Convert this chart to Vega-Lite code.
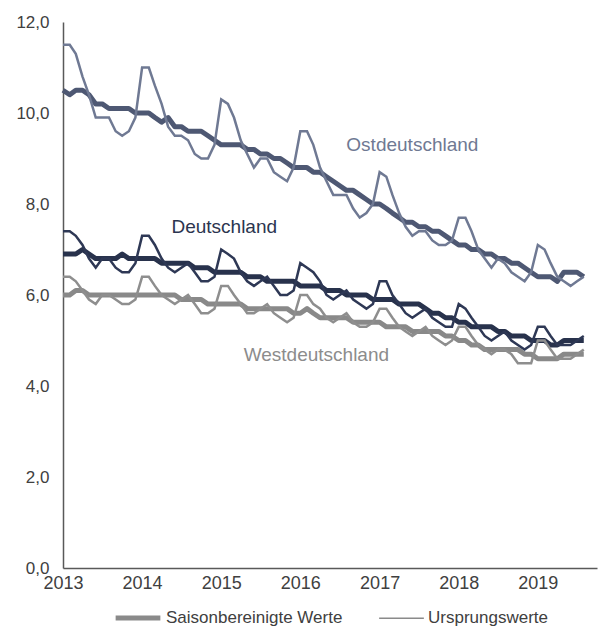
{
  "$schema": "https://vega.github.io/schema/vega-lite/v6.json",
  "autosize": {"type": "none"},
  "width": 534,
  "height": 546,
  "padding": {"left": 63, "top": 22, "right": 1, "bottom": 62},
  "config": {
    "font": "Liberation Sans",
    "view": {"stroke": null},
    "axis": {"labelFont": "Liberation Sans"},
    "legend": {"labelFont": "Liberation Sans"}
  },
  "datasets": {
    "werte": [
      {"d":"2013-01-01","r":"Ostdeutschland","sa":10.5,"o":11.5},{"d":"2013-02-01","r":"Ostdeutschland","sa":10.4,"o":11.5},{"d":"2013-03-01","r":"Ostdeutschland","sa":10.5,"o":11.3},{"d":"2013-04-01","r":"Ostdeutschland","sa":10.5,"o":10.8},{"d":"2013-05-01","r":"Ostdeutschland","sa":10.4,"o":10.4},{"d":"2013-06-01","r":"Ostdeutschland","sa":10.2,"o":9.9},{"d":"2013-07-01","r":"Ostdeutschland","sa":10.2,"o":9.9},{"d":"2013-08-01","r":"Ostdeutschland","sa":10.1,"o":9.9},{"d":"2013-09-01","r":"Ostdeutschland","sa":10.1,"o":9.6},{"d":"2013-10-01","r":"Ostdeutschland","sa":10.1,"o":9.5},{"d":"2013-11-01","r":"Ostdeutschland","sa":10.1,"o":9.6},{"d":"2013-12-01","r":"Ostdeutschland","sa":10.0,"o":9.9},
      {"d":"2014-01-01","r":"Ostdeutschland","sa":10.0,"o":11.0},{"d":"2014-02-01","r":"Ostdeutschland","sa":10.0,"o":11.0},{"d":"2014-03-01","r":"Ostdeutschland","sa":9.9,"o":10.6},{"d":"2014-04-01","r":"Ostdeutschland","sa":9.8,"o":10.2},{"d":"2014-05-01","r":"Ostdeutschland","sa":9.9,"o":9.7},{"d":"2014-06-01","r":"Ostdeutschland","sa":9.7,"o":9.5},{"d":"2014-07-01","r":"Ostdeutschland","sa":9.7,"o":9.5},{"d":"2014-08-01","r":"Ostdeutschland","sa":9.6,"o":9.4},{"d":"2014-09-01","r":"Ostdeutschland","sa":9.6,"o":9.1},{"d":"2014-10-01","r":"Ostdeutschland","sa":9.6,"o":9.0},{"d":"2014-11-01","r":"Ostdeutschland","sa":9.5,"o":9.0},{"d":"2014-12-01","r":"Ostdeutschland","sa":9.4,"o":9.3},
      {"d":"2015-01-01","r":"Ostdeutschland","sa":9.3,"o":10.3},{"d":"2015-02-01","r":"Ostdeutschland","sa":9.3,"o":10.2},{"d":"2015-03-01","r":"Ostdeutschland","sa":9.3,"o":9.9},{"d":"2015-04-01","r":"Ostdeutschland","sa":9.3,"o":9.4},{"d":"2015-05-01","r":"Ostdeutschland","sa":9.2,"o":9.1},{"d":"2015-06-01","r":"Ostdeutschland","sa":9.2,"o":8.8},{"d":"2015-07-01","r":"Ostdeutschland","sa":9.1,"o":9.0},{"d":"2015-08-01","r":"Ostdeutschland","sa":9.1,"o":9.0},{"d":"2015-09-01","r":"Ostdeutschland","sa":9.0,"o":8.7},{"d":"2015-10-01","r":"Ostdeutschland","sa":9.0,"o":8.6},{"d":"2015-11-01","r":"Ostdeutschland","sa":8.9,"o":8.5},{"d":"2015-12-01","r":"Ostdeutschland","sa":8.8,"o":8.8},
      {"d":"2016-01-01","r":"Ostdeutschland","sa":8.8,"o":9.6},{"d":"2016-02-01","r":"Ostdeutschland","sa":8.8,"o":9.6},{"d":"2016-03-01","r":"Ostdeutschland","sa":8.7,"o":9.3},{"d":"2016-04-01","r":"Ostdeutschland","sa":8.7,"o":8.8},{"d":"2016-05-01","r":"Ostdeutschland","sa":8.6,"o":8.5},{"d":"2016-06-01","r":"Ostdeutschland","sa":8.5,"o":8.2},{"d":"2016-07-01","r":"Ostdeutschland","sa":8.4,"o":8.2},{"d":"2016-08-01","r":"Ostdeutschland","sa":8.3,"o":8.2},{"d":"2016-09-01","r":"Ostdeutschland","sa":8.3,"o":7.9},{"d":"2016-10-01","r":"Ostdeutschland","sa":8.2,"o":7.7},{"d":"2016-11-01","r":"Ostdeutschland","sa":8.1,"o":7.8},{"d":"2016-12-01","r":"Ostdeutschland","sa":8.0,"o":8.0},
      {"d":"2017-01-01","r":"Ostdeutschland","sa":8.0,"o":8.7},{"d":"2017-02-01","r":"Ostdeutschland","sa":7.9,"o":8.6},{"d":"2017-03-01","r":"Ostdeutschland","sa":7.8,"o":8.2},{"d":"2017-04-01","r":"Ostdeutschland","sa":7.7,"o":7.8},{"d":"2017-05-01","r":"Ostdeutschland","sa":7.6,"o":7.5},{"d":"2017-06-01","r":"Ostdeutschland","sa":7.6,"o":7.3},{"d":"2017-07-01","r":"Ostdeutschland","sa":7.5,"o":7.4},{"d":"2017-08-01","r":"Ostdeutschland","sa":7.5,"o":7.4},{"d":"2017-09-01","r":"Ostdeutschland","sa":7.4,"o":7.2},{"d":"2017-10-01","r":"Ostdeutschland","sa":7.4,"o":7.1},{"d":"2017-11-01","r":"Ostdeutschland","sa":7.3,"o":7.1},{"d":"2017-12-01","r":"Ostdeutschland","sa":7.2,"o":7.2},
      {"d":"2018-01-01","r":"Ostdeutschland","sa":7.1,"o":7.7},{"d":"2018-02-01","r":"Ostdeutschland","sa":7.1,"o":7.7},{"d":"2018-03-01","r":"Ostdeutschland","sa":7.0,"o":7.4},{"d":"2018-04-01","r":"Ostdeutschland","sa":7.0,"o":7.0},{"d":"2018-05-01","r":"Ostdeutschland","sa":6.9,"o":6.8},{"d":"2018-06-01","r":"Ostdeutschland","sa":6.9,"o":6.6},{"d":"2018-07-01","r":"Ostdeutschland","sa":6.8,"o":6.8},{"d":"2018-08-01","r":"Ostdeutschland","sa":6.8,"o":6.7},{"d":"2018-09-01","r":"Ostdeutschland","sa":6.7,"o":6.5},{"d":"2018-10-01","r":"Ostdeutschland","sa":6.7,"o":6.4},{"d":"2018-11-01","r":"Ostdeutschland","sa":6.6,"o":6.3},{"d":"2018-12-01","r":"Ostdeutschland","sa":6.5,"o":6.5},
      {"d":"2019-01-01","r":"Ostdeutschland","sa":6.4,"o":7.1},{"d":"2019-02-01","r":"Ostdeutschland","sa":6.4,"o":7.0},{"d":"2019-03-01","r":"Ostdeutschland","sa":6.4,"o":6.7},{"d":"2019-04-01","r":"Ostdeutschland","sa":6.3,"o":6.4},{"d":"2019-05-01","r":"Ostdeutschland","sa":6.5,"o":6.3},{"d":"2019-06-01","r":"Ostdeutschland","sa":6.5,"o":6.2},{"d":"2019-07-01","r":"Ostdeutschland","sa":6.5,"o":6.3},{"d":"2019-08-01","r":"Ostdeutschland","sa":6.4,"o":6.4},

      {"d":"2013-01-01","r":"Deutschland","sa":6.9,"o":7.4},{"d":"2013-02-01","r":"Deutschland","sa":6.9,"o":7.4},{"d":"2013-03-01","r":"Deutschland","sa":6.9,"o":7.3},{"d":"2013-04-01","r":"Deutschland","sa":7.0,"o":7.1},{"d":"2013-05-01","r":"Deutschland","sa":6.9,"o":6.8},{"d":"2013-06-01","r":"Deutschland","sa":6.8,"o":6.6},{"d":"2013-07-01","r":"Deutschland","sa":6.8,"o":6.8},{"d":"2013-08-01","r":"Deutschland","sa":6.8,"o":6.8},{"d":"2013-09-01","r":"Deutschland","sa":6.8,"o":6.6},{"d":"2013-10-01","r":"Deutschland","sa":6.9,"o":6.5},{"d":"2013-11-01","r":"Deutschland","sa":6.8,"o":6.5},{"d":"2013-12-01","r":"Deutschland","sa":6.8,"o":6.7},
      {"d":"2014-01-01","r":"Deutschland","sa":6.8,"o":7.3},{"d":"2014-02-01","r":"Deutschland","sa":6.8,"o":7.3},{"d":"2014-03-01","r":"Deutschland","sa":6.8,"o":7.1},{"d":"2014-04-01","r":"Deutschland","sa":6.7,"o":6.8},{"d":"2014-05-01","r":"Deutschland","sa":6.7,"o":6.6},{"d":"2014-06-01","r":"Deutschland","sa":6.7,"o":6.5},{"d":"2014-07-01","r":"Deutschland","sa":6.7,"o":6.6},{"d":"2014-08-01","r":"Deutschland","sa":6.7,"o":6.7},{"d":"2014-09-01","r":"Deutschland","sa":6.6,"o":6.5},{"d":"2014-10-01","r":"Deutschland","sa":6.6,"o":6.3},{"d":"2014-11-01","r":"Deutschland","sa":6.6,"o":6.3},{"d":"2014-12-01","r":"Deutschland","sa":6.5,"o":6.4},
      {"d":"2015-01-01","r":"Deutschland","sa":6.5,"o":7.0},{"d":"2015-02-01","r":"Deutschland","sa":6.5,"o":6.9},{"d":"2015-03-01","r":"Deutschland","sa":6.5,"o":6.8},{"d":"2015-04-01","r":"Deutschland","sa":6.5,"o":6.5},{"d":"2015-05-01","r":"Deutschland","sa":6.4,"o":6.3},{"d":"2015-06-01","r":"Deutschland","sa":6.4,"o":6.2},{"d":"2015-07-01","r":"Deutschland","sa":6.4,"o":6.3},{"d":"2015-08-01","r":"Deutschland","sa":6.3,"o":6.4},{"d":"2015-09-01","r":"Deutschland","sa":6.3,"o":6.2},{"d":"2015-10-01","r":"Deutschland","sa":6.3,"o":6.0},{"d":"2015-11-01","r":"Deutschland","sa":6.3,"o":6.0},{"d":"2015-12-01","r":"Deutschland","sa":6.3,"o":6.1},
      {"d":"2016-01-01","r":"Deutschland","sa":6.2,"o":6.7},{"d":"2016-02-01","r":"Deutschland","sa":6.2,"o":6.6},{"d":"2016-03-01","r":"Deutschland","sa":6.2,"o":6.5},{"d":"2016-04-01","r":"Deutschland","sa":6.2,"o":6.3},{"d":"2016-05-01","r":"Deutschland","sa":6.1,"o":6.0},{"d":"2016-06-01","r":"Deutschland","sa":6.1,"o":5.9},{"d":"2016-07-01","r":"Deutschland","sa":6.1,"o":6.0},{"d":"2016-08-01","r":"Deutschland","sa":6.0,"o":6.1},{"d":"2016-09-01","r":"Deutschland","sa":6.0,"o":5.9},{"d":"2016-10-01","r":"Deutschland","sa":6.0,"o":5.8},{"d":"2016-11-01","r":"Deutschland","sa":6.0,"o":5.7},{"d":"2016-12-01","r":"Deutschland","sa":5.9,"o":5.8},
      {"d":"2017-01-01","r":"Deutschland","sa":5.9,"o":6.3},{"d":"2017-02-01","r":"Deutschland","sa":5.9,"o":6.3},{"d":"2017-03-01","r":"Deutschland","sa":5.9,"o":6.0},{"d":"2017-04-01","r":"Deutschland","sa":5.8,"o":5.8},{"d":"2017-05-01","r":"Deutschland","sa":5.8,"o":5.6},{"d":"2017-06-01","r":"Deutschland","sa":5.8,"o":5.5},{"d":"2017-07-01","r":"Deutschland","sa":5.8,"o":5.6},{"d":"2017-08-01","r":"Deutschland","sa":5.7,"o":5.7},{"d":"2017-09-01","r":"Deutschland","sa":5.6,"o":5.5},{"d":"2017-10-01","r":"Deutschland","sa":5.6,"o":5.4},{"d":"2017-11-01","r":"Deutschland","sa":5.5,"o":5.3},{"d":"2017-12-01","r":"Deutschland","sa":5.5,"o":5.3},
      {"d":"2018-01-01","r":"Deutschland","sa":5.4,"o":5.8},{"d":"2018-02-01","r":"Deutschland","sa":5.4,"o":5.7},{"d":"2018-03-01","r":"Deutschland","sa":5.3,"o":5.5},{"d":"2018-04-01","r":"Deutschland","sa":5.3,"o":5.3},{"d":"2018-05-01","r":"Deutschland","sa":5.3,"o":5.1},{"d":"2018-06-01","r":"Deutschland","sa":5.3,"o":5.0},{"d":"2018-07-01","r":"Deutschland","sa":5.2,"o":5.1},{"d":"2018-08-01","r":"Deutschland","sa":5.2,"o":5.2},{"d":"2018-09-01","r":"Deutschland","sa":5.1,"o":5.0},{"d":"2018-10-01","r":"Deutschland","sa":5.1,"o":4.9},{"d":"2018-11-01","r":"Deutschland","sa":5.1,"o":4.8},{"d":"2018-12-01","r":"Deutschland","sa":5.0,"o":4.9},
      {"d":"2019-01-01","r":"Deutschland","sa":5.0,"o":5.3},{"d":"2019-02-01","r":"Deutschland","sa":5.0,"o":5.3},{"d":"2019-03-01","r":"Deutschland","sa":4.9,"o":5.1},{"d":"2019-04-01","r":"Deutschland","sa":4.9,"o":4.9},{"d":"2019-05-01","r":"Deutschland","sa":5.0,"o":4.9},{"d":"2019-06-01","r":"Deutschland","sa":5.0,"o":4.9},{"d":"2019-07-01","r":"Deutschland","sa":5.0,"o":5.0},{"d":"2019-08-01","r":"Deutschland","sa":5.0,"o":5.1},

      {"d":"2013-01-01","r":"Westdeutschland","sa":6.0,"o":6.4},{"d":"2013-02-01","r":"Westdeutschland","sa":6.0,"o":6.4},{"d":"2013-03-01","r":"Westdeutschland","sa":6.1,"o":6.3},{"d":"2013-04-01","r":"Westdeutschland","sa":6.1,"o":6.1},{"d":"2013-05-01","r":"Westdeutschland","sa":6.0,"o":5.9},{"d":"2013-06-01","r":"Westdeutschland","sa":6.0,"o":5.8},{"d":"2013-07-01","r":"Westdeutschland","sa":6.0,"o":6.0},{"d":"2013-08-01","r":"Westdeutschland","sa":6.0,"o":6.0},{"d":"2013-09-01","r":"Westdeutschland","sa":6.0,"o":5.9},{"d":"2013-10-01","r":"Westdeutschland","sa":6.0,"o":5.8},{"d":"2013-11-01","r":"Westdeutschland","sa":6.0,"o":5.8},{"d":"2013-12-01","r":"Westdeutschland","sa":6.0,"o":5.9},
      {"d":"2014-01-01","r":"Westdeutschland","sa":6.0,"o":6.4},{"d":"2014-02-01","r":"Westdeutschland","sa":6.0,"o":6.4},{"d":"2014-03-01","r":"Westdeutschland","sa":6.0,"o":6.2},{"d":"2014-04-01","r":"Westdeutschland","sa":6.0,"o":6.0},{"d":"2014-05-01","r":"Westdeutschland","sa":6.0,"o":5.9},{"d":"2014-06-01","r":"Westdeutschland","sa":6.0,"o":5.8},{"d":"2014-07-01","r":"Westdeutschland","sa":5.9,"o":5.9},{"d":"2014-08-01","r":"Westdeutschland","sa":5.9,"o":6.0},{"d":"2014-09-01","r":"Westdeutschland","sa":5.9,"o":5.8},{"d":"2014-10-01","r":"Westdeutschland","sa":5.9,"o":5.6},{"d":"2014-11-01","r":"Westdeutschland","sa":5.8,"o":5.6},{"d":"2014-12-01","r":"Westdeutschland","sa":5.8,"o":5.7},
      {"d":"2015-01-01","r":"Westdeutschland","sa":5.8,"o":6.2},{"d":"2015-02-01","r":"Westdeutschland","sa":5.8,"o":6.2},{"d":"2015-03-01","r":"Westdeutschland","sa":5.8,"o":6.0},{"d":"2015-04-01","r":"Westdeutschland","sa":5.8,"o":5.8},{"d":"2015-05-01","r":"Westdeutschland","sa":5.7,"o":5.6},{"d":"2015-06-01","r":"Westdeutschland","sa":5.7,"o":5.6},{"d":"2015-07-01","r":"Westdeutschland","sa":5.7,"o":5.7},{"d":"2015-08-01","r":"Westdeutschland","sa":5.7,"o":5.8},{"d":"2015-09-01","r":"Westdeutschland","sa":5.7,"o":5.6},{"d":"2015-10-01","r":"Westdeutschland","sa":5.7,"o":5.5},{"d":"2015-11-01","r":"Westdeutschland","sa":5.7,"o":5.4},{"d":"2015-12-01","r":"Westdeutschland","sa":5.6,"o":5.5},
      {"d":"2016-01-01","r":"Westdeutschland","sa":5.6,"o":6.0},{"d":"2016-02-01","r":"Westdeutschland","sa":5.7,"o":6.0},{"d":"2016-03-01","r":"Westdeutschland","sa":5.6,"o":5.8},{"d":"2016-04-01","r":"Westdeutschland","sa":5.5,"o":5.7},{"d":"2016-05-01","r":"Westdeutschland","sa":5.5,"o":5.5},{"d":"2016-06-01","r":"Westdeutschland","sa":5.5,"o":5.4},{"d":"2016-07-01","r":"Westdeutschland","sa":5.5,"o":5.5},{"d":"2016-08-01","r":"Westdeutschland","sa":5.5,"o":5.6},{"d":"2016-09-01","r":"Westdeutschland","sa":5.4,"o":5.4},{"d":"2016-10-01","r":"Westdeutschland","sa":5.4,"o":5.3},{"d":"2016-11-01","r":"Westdeutschland","sa":5.4,"o":5.3},{"d":"2016-12-01","r":"Westdeutschland","sa":5.4,"o":5.4},
      {"d":"2017-01-01","r":"Westdeutschland","sa":5.4,"o":5.7},{"d":"2017-02-01","r":"Westdeutschland","sa":5.3,"o":5.7},{"d":"2017-03-01","r":"Westdeutschland","sa":5.3,"o":5.5},{"d":"2017-04-01","r":"Westdeutschland","sa":5.3,"o":5.3},{"d":"2017-05-01","r":"Westdeutschland","sa":5.3,"o":5.2},{"d":"2017-06-01","r":"Westdeutschland","sa":5.2,"o":5.1},{"d":"2017-07-01","r":"Westdeutschland","sa":5.2,"o":5.2},{"d":"2017-08-01","r":"Westdeutschland","sa":5.2,"o":5.3},{"d":"2017-09-01","r":"Westdeutschland","sa":5.2,"o":5.1},{"d":"2017-10-01","r":"Westdeutschland","sa":5.2,"o":5.0},{"d":"2017-11-01","r":"Westdeutschland","sa":5.1,"o":4.9},{"d":"2017-12-01","r":"Westdeutschland","sa":5.1,"o":5.0},
      {"d":"2018-01-01","r":"Westdeutschland","sa":5.0,"o":5.3},{"d":"2018-02-01","r":"Westdeutschland","sa":5.0,"o":5.3},{"d":"2018-03-01","r":"Westdeutschland","sa":4.9,"o":5.1},{"d":"2018-04-01","r":"Westdeutschland","sa":4.9,"o":4.9},{"d":"2018-05-01","r":"Westdeutschland","sa":4.8,"o":4.8},{"d":"2018-06-01","r":"Westdeutschland","sa":4.8,"o":4.7},{"d":"2018-07-01","r":"Westdeutschland","sa":4.8,"o":4.8},{"d":"2018-08-01","r":"Westdeutschland","sa":4.8,"o":4.8},{"d":"2018-09-01","r":"Westdeutschland","sa":4.8,"o":4.7},{"d":"2018-10-01","r":"Westdeutschland","sa":4.8,"o":4.5},{"d":"2018-11-01","r":"Westdeutschland","sa":4.7,"o":4.5},{"d":"2018-12-01","r":"Westdeutschland","sa":4.7,"o":4.5},
      {"d":"2019-01-01","r":"Westdeutschland","sa":4.6,"o":5.0},{"d":"2019-02-01","r":"Westdeutschland","sa":4.6,"o":5.0},{"d":"2019-03-01","r":"Westdeutschland","sa":4.6,"o":4.8},{"d":"2019-04-01","r":"Westdeutschland","sa":4.6,"o":4.6},{"d":"2019-05-01","r":"Westdeutschland","sa":4.7,"o":4.6},{"d":"2019-06-01","r":"Westdeutschland","sa":4.7,"o":4.6},{"d":"2019-07-01","r":"Westdeutschland","sa":4.7,"o":4.7},{"d":"2019-08-01","r":"Westdeutschland","sa":4.7,"o":4.8}
    ],
    "beschriftung": [
      {"d":"2017-06-01","v":9.3,"r":"Ostdeutschland"},
      {"d":"2015-01-15","v":7.5,"r":"Deutschland"},
      {"d":"2016-03-15","v":4.68,"r":"Westdeutschland"}
    ]
  },
  "encoding": {
    "x": {
      "field": "d", "type": "temporal",
      "scale": {"type": "utc", "domain": [{"year": 2013, "month": 1, "date": 1, "utc": true}, {"year": 2019, "month": 10, "date": 1, "utc": true}]},
      "axis": {
        "title": null, "format": "%Y", "ticks": false, "grid": false,
        "values": [
          {"year": 2013, "month": 1, "date": 1, "utc": true},
          {"year": 2014, "month": 1, "date": 1, "utc": true},
          {"year": 2015, "month": 1, "date": 1, "utc": true},
          {"year": 2016, "month": 1, "date": 1, "utc": true},
          {"year": 2017, "month": 1, "date": 1, "utc": true},
          {"year": 2018, "month": 1, "date": 1, "utc": true},
          {"year": 2019, "month": 1, "date": 1, "utc": true}
        ],
        "domainColor": "#595959", "domainWidth": 1.5,
        "labelFontSize": 18, "labelColor": "#404040", "labelPadding": 6, "labelFlush": false
      }
    }
  },
  "layer": [
    {
      "data": {"name": "werte"},
      "mark": {"type": "line", "strokeJoin": "round", "strokeCap": "butt"},
      "encoding": {
        "y": {
          "field": "sa", "type": "quantitative",
          "scale": {"domain": [0, 12], "nice": false},
          "axis": {
            "title": null, "values": [0, 2, 4, 6, 8, 10, 12], "ticks": false, "grid": false,
            "labelExpr": "replace(format(datum.value, '.1f'), '.', ',')",
            "domainColor": "#595959", "domainWidth": 1.5,
            "labelFontSize": 17, "labelColor": "#404040", "labelPadding": 14
          }
        },
        "color": {
          "field": "r", "type": "nominal", "legend": null,
          "scale": {"domain": ["Ostdeutschland", "Deutschland", "Westdeutschland"], "range": ["#4e5873", "#28324c", "#898989"]}
        },
        "strokeWidth": {
          "datum": "Saisonbereinigte Werte", "type": "nominal",
          "scale": {"type": "ordinal", "domain": ["Saisonbereinigte Werte", "Ursprungswerte"], "range": [5, 1.5]},
          "legend": {
            "title": null, "orient": "none", "legendX": 50, "legendY": 571,
            "direction": "horizontal", "symbolType": "stroke", "symbolSize": 2000,
            "symbolStrokeColor": "#8a8a8a", "labelFontSize": 17, "labelColor": "#404040",
            "labelOffset": 3, "columnPadding": 33, "labelLimit": 400
          }
        }
      }
    },
    {
      "data": {"name": "werte"},
      "mark": {"type": "line", "strokeJoin": "miter"},
      "encoding": {
        "y": {"field": "o", "type": "quantitative"},
        "color": {
          "field": "r", "type": "nominal", "legend": null,
          "scale": {"domain": ["Ostdeutschland", "Deutschland", "Westdeutschland"], "range": ["#6f7993", "#2e3855", "#8e8e8e"]}
        },
        "strokeWidth": {"datum": "Ursprungswerte", "type": "nominal"}
      }
    },
    {
      "data": {"name": "beschriftung"},
      "mark": {"type": "text", "fontSize": 19, "align": "center", "baseline": "middle"},
      "encoding": {
        "y": {"field": "v", "type": "quantitative"},
        "text": {"field": "r"},
        "color": {
          "field": "r", "type": "nominal", "legend": null,
          "scale": {"domain": ["Ostdeutschland", "Deutschland", "Westdeutschland"], "range": ["#6f7993", "#2b354f", "#8c8c8c"]}
        }
      }
    }
  ],
  "resolve": {"scale": {"color": "independent"}}
}
